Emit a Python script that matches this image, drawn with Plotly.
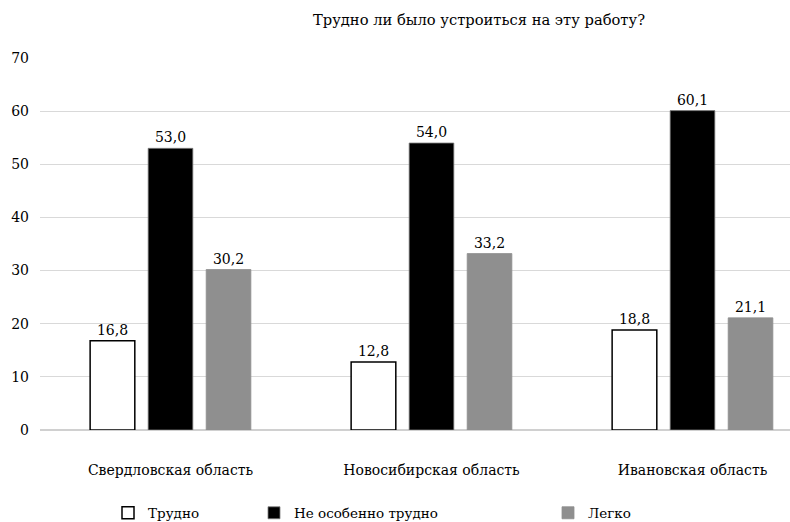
import plotly.graph_objects as go

categories = ["Свердловская область", "Новосибирская область", "Ивановская область"]
series_names = ["Трудно", "Не особенно трудно", "Легко"]
trudno = [16.8, 12.8, 18.8]
ne_osobenno = [53.0, 54.0, 60.1]
legko = [30.2, 33.2, 21.1]
y_ticks = [0, 10, 20, 30, 40, 50, 60, 70]
title_text = "Трудно ли было устроиться на эту работу?"

FONT = "'DejaVu Serif', 'Liberation Serif', serif"
FS = 14

def fmt(vals):
    return [f"{v:.1f}".replace(".", ",") for v in vals]

styles = [
    dict(color="white", line=dict(color="black", width=1.5)),
    dict(color="black", line=dict(color="#7f7f7f", width=0.8)),
    dict(color="#8f8f8f", line=dict(color="#8f8f8f", width=0.8)),
]
legend_ids = ["legend", "legend2", "legend3"]

fig = go.Figure()
for name, vals, st, lg in zip(series_names, [trudno, ne_osobenno, legko], styles, legend_ids):
    fig.add_trace(go.Bar(
        x=categories, y=vals, name=name, marker=st,
        text=fmt(vals), textposition="outside", cliponaxis=False,
        textfont=dict(family=FONT, size=FS, color="black"),
        legend=lg, showlegend=True, hoverinfo="skip",
    ))

W, H = 790, 522
L, R, T, B = 40, 0, 58, 92
PW, PH = W - L - R, H - T - B
legend_common = dict(orientation="h", yref="paper", xref="paper",
                     yanchor="middle", xanchor="left",
                     font=dict(family=FONT, size=13.5, color="black"),
                     bgcolor="rgba(0,0,0,0)")
lx = [122, 268, 562]
ly = (H - B - 513) / PH
fig.update_layout(
    width=W, height=H,
    barmode="group", bargap=0.333, bargroupgap=0.23,
    plot_bgcolor="white", paper_bgcolor="white",
    margin=dict(l=L, r=R, t=T, b=B, autoexpand=False),
    font=dict(family=FONT, size=FS, color="black"),
    title=dict(text=title_text, x=479 / W, xref="container", xanchor="center",
               y=1 - 20 / H, yref="container", yanchor="middle",
               font=dict(family=FONT, size=14.7, color="black")),
    xaxis=dict(range=[-0.5, 2.5 - 33 / 261], showgrid=False, ticks="",
               ticklabelstandoff=30, tickfont=dict(family=FONT, size=FS, color="black"),
               showline=False, zeroline=False),
    yaxis=dict(range=[0, 70], tickvals=y_ticks, showgrid=True, gridcolor="#d9d9d9",
               gridwidth=1, zeroline=True, zerolinecolor="#d0d0d0", zerolinewidth=1.5,
               ticks="", ticklabelstandoff=10, tickfont=dict(family=FONT, size=FS, color="black"),
               showline=False),
    legend=dict(legend_common, x=(lx[0] - 14 - L) / PW, y=ly),
    legend2=dict(legend_common, x=(lx[1] - 14 - L) / PW, y=ly),
    legend3=dict(legend_common, x=(lx[2] - 14 - L) / PW, y=ly),
)

fig.write_html("out.html", config={"displayModeBar": False},
               post_script="document.body.style.margin='0';document.body.style.overflow='hidden';")
